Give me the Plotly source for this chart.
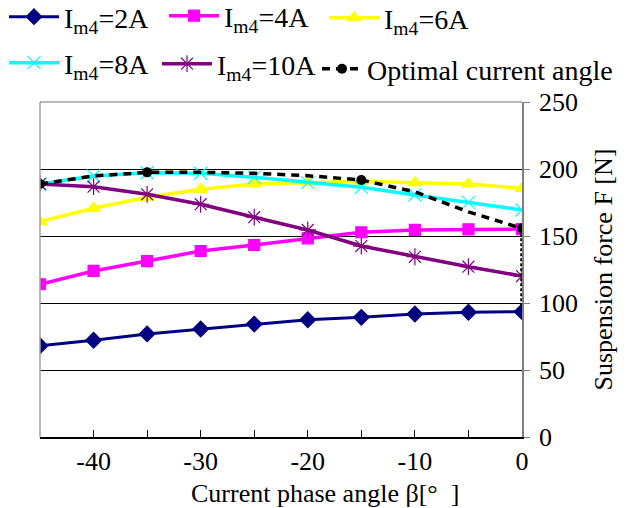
import plotly.graph_objects as go

# ---- data ----
beta = [-45, -40, -35, -30, -25, -20, -15, -10, -5, 0]
f_2A = [68.1, 72.2, 76.9, 80.6, 84.3, 87.5, 89.3, 91.8, 93.1, 93.5]
f_4A = [114.0, 123.9, 131.3, 138.8, 143.3, 148.3, 152.8, 154.5, 155.0, 155.2]
f_6A = [160.7, 170.7, 178.9, 184.9, 188.8, 190.1, 190.8, 189.8, 188.8, 185.6]
f_8A = [188.8, 194.8, 197.2, 196.8, 193.8, 189.8, 186.3, 180.6, 175.1, 169.4]
f_10A = [188.8, 186.8, 181.1, 173.7, 164.0, 154.5, 142.5, 134.5, 127.1, 120.1]
opt_beta = [-45, -40, -35, -30, -25, -20, -15, -10, -5, 0]
opt_force = [188.8, 194.8, 197.5, 197.5, 196.8, 195.0, 191.8, 183.0, 168.0, 155.7]
opt_marked = [-45, -35, -15, 0]
drop_beta = [0, 0]
drop_force = [155.7, 93.5]

series_names = ["I<sub>m4</sub>=2A", "I<sub>m4</sub>=4A", "I<sub>m4</sub>=6A",
                "I<sub>m4</sub>=8A", "I<sub>m4</sub>=10A"]
opt_name = "Optimal current angle"
x_tickvals = [-40, -30, -20, -10, 0]
x_ticktext = ["-40", "-30", "-20", "-10", "0"]
x_title = "Current phase angle β[°\u00a0\u00a0]"
y_title = "Suspension force F [N]"

FONT = "Liberation Serif, Times New Roman, serif"

styles = [
    dict(color="#000080", symbol="diamond", size=12, lw=3, legend="legend"),
    dict(color="#FF00FF", symbol="square", size=11, lw=3.5, legend="legend2"),
    dict(color="#FFFF00", symbol="triangle-up", size=12, lw=3.5, legend="legend3"),
    dict(color="#00FFFF", symbol="x-thin-open", size=13, lw=3.5, legend="legend4"),
    dict(color="#800080", symbol="asterisk-open", size=14, lw=3.5, legend="legend5"),
]
all_series = [f_2A, f_4A, f_6A, f_8A, f_10A]

fig = go.Figure()
for name, ys, st in zip(series_names, all_series, styles):
    fig.add_trace(go.Scatter(
        x=beta, y=ys, name=name, mode="lines+markers", legend=st["legend"],
        line=dict(color=st["color"], width=st["lw"]),
        marker=dict(symbol=st["symbol"], size=st["size"], color=st["color"],
                    line=dict(color=st["color"], width=1.2)),
    ))

fig.add_trace(go.Scatter(
    x=drop_beta, y=drop_force, mode="lines", showlegend=False,
    line=dict(color="black", width=3.5, dash="3px,2px"),
))
opt_colors = ["black" if b in opt_marked else "rgba(0,0,0,0)" for b in opt_beta]
fig.add_trace(go.Scatter(
    x=opt_beta, y=opt_force, name=opt_name, mode="lines+markers", legend="legend6",
    line=dict(color="black", width=3.5, dash="8px,6px"),
    marker=dict(symbol="circle", size=10, color=opt_colors, line=dict(width=0)),
))

# re-draw 2A marker at 0 on top of the drop line
fig.add_trace(go.Scatter(
    x=beta[-1:], y=f_2A[-1:], mode="markers", showlegend=False,
    marker=dict(symbol="diamond", size=12, color="#000080"),
))

# page has an 8px body margin, so the figure is 8px smaller than the window
PL, PT, PW, PH = 40, 102, 482, 335   # plot area in window pixels


def legend_at(xpx, top, iw=50):
    return dict(
        orientation="v", x=(xpx - PL) / PW, y=(PT + PH - top) / PH,
        xanchor="left", yanchor="top",
        font=dict(family=FONT, size=28, color="black"),
        itemwidth=iw, bgcolor="rgba(0,0,0,0)", borderwidth=0,
        tracegroupgap=0,
    )


fig.update_layout(
    width=619, height=500,
    margin=dict(l=PL - 8, r=619 - (PL - 8) - PW, t=PT - 8, b=500 - (PT - 8) - PH, autoexpand=False),
    paper_bgcolor="white", plot_bgcolor="white",
    font=dict(family=FONT, size=26, color="black"),
    showlegend=True,
    legend=legend_at(4, -8),
    legend2=legend_at(164, -9),
    legend3=legend_at(324, -7),
    legend4=legend_at(4, 38),
    legend5=legend_at(157, 39),
    legend6=legend_at(317, 44, iw=40),
    xaxis=dict(
        range=[-45, 0], tickvals=x_tickvals, ticktext=x_ticktext,
        ticks="inside", ticklen=7, tickcolor="black", tickwidth=1,
        minor=dict(dtick=5, tick0=0, ticks="inside", ticklen=7, tickcolor="black", showgrid=False),
        showline=True, linecolor="black", linewidth=1.5,
        showgrid=False, zeroline=False,
        tickfont=dict(family=FONT, size=26, color="black"),
    ),
    yaxis=dict(
        range=[0, 250], dtick=50, side="right",
        showgrid=True, gridcolor="black", gridwidth=1,
        showline=True, linecolor="#808080", linewidth=1.5,
        ticks="outside", ticklen=6, tickcolor="#808080",
        ticklabelstandoff=4, zeroline=False,
        tickfont=dict(family=FONT, size=26, color="black"),
        title=dict(text=y_title, font=dict(family=FONT, size=26, color="black"), standoff=17),
    ),
    shapes=[
        dict(type="line", xref="paper", yref="paper", x0=0, x1=1, y0=1, y1=1,
             line=dict(color="#A0A0A0", width=1.5), layer="above"),
        dict(type="line", xref="paper", yref="paper", x0=0, x1=0, y0=0, y1=1,
             line=dict(color="#A0A0A0", width=1.5), layer="above"),
    ],
    annotations=[
        dict(text=x_title, xref="paper", yref="paper", x=(325 - PL) / PW, y=(PT + PH - 493) / PH,
             xanchor="center", yanchor="middle", showarrow=False,
             font=dict(family=FONT, size=26, color="black")),
    ],
)

fig.write_html("out.html")
